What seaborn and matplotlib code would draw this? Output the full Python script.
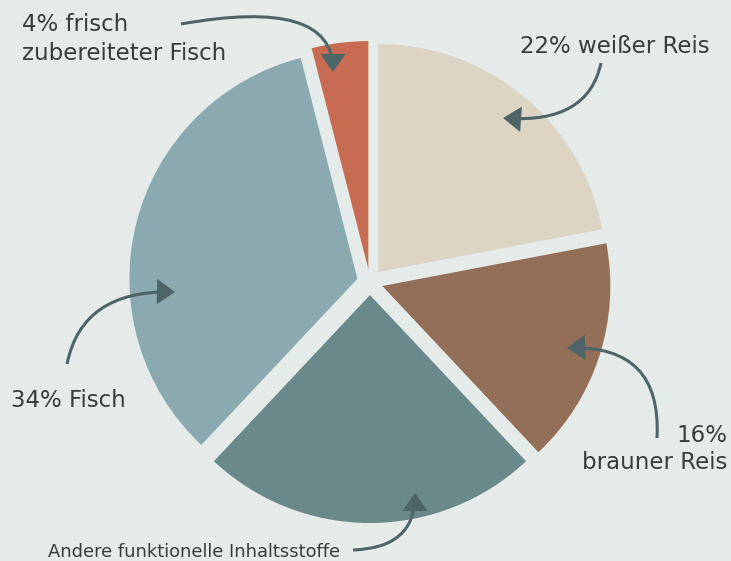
import matplotlib
matplotlib.use("Agg")
import matplotlib.pyplot as plt
import seaborn as sns
from matplotlib.patches import FancyArrowPatch
from matplotlib.path import Path

# data (clockwise from 12 o'clock)
categories = ["weißer Reis", "brauner Reis", "Andere funktionelle Inhaltsstoffe",
              "Fisch", "frisch zubereiteter Fisch"]
shares = [22, 16, 24, 34, 4]
colors = ["#DCD5C4", "#946F57", "#6A898A", "#8AAAB0", "#C76B52"]

BG = "#E5EBE9"
TXT = "#383D3C"
ARR = "#4E6567"

sns.set_theme(style="white")
plt.rcParams["font.family"] = ["DejaVu Sans"]

W, H = 731, 561
fig = plt.figure(figsize=(W / 100, H / 100), dpi=100, facecolor=BG)
ax = fig.add_axes([0, 0, 1, 1])
ax.set_facecolor(BG)

R = 228
# explode is in data units here (radius is not 1)
ax.pie(shares, colors=colors, startangle=90, counterclock=False,
       explode=[13] * len(shares), radius=R, center=(370, H - 282),
       wedgeprops=dict(linewidth=0))
ax.set_xlim(0, W)
ax.set_ylim(0, H)
ax.set_aspect("equal")
ax.axis("off")

# labels (x, baseline in image pixels)
def label(x, y, s, size=16.5, ha="left"):
    ax.text(x, H - y, s, fontsize=size, color=TXT, ha=ha, va="baseline")

label(22, 31, "4% frisch")
label(22, 60, "zubereiteter Fisch")
label(520, 53, "22% weißer Reis")
label(11, 407, "34% Fisch")
label(727, 442, "16%", ha="right")
label(727, 469, "brauner Reis", ha="right")
label(48, 557, "Andere funktionelle Inhaltsstoffe", size=12.9)

# curved arrows: start, control, tip (image pixels)
def curved(a, c, b):
    pts = [(p[0], H - p[1]) for p in (a, c, b)]
    path = Path(pts, [Path.MOVETO, Path.CURVE3, Path.CURVE3])
    arr = FancyArrowPatch(path=path, arrowstyle="-|>,head_length=10,head_width=7",
                          color=ARR, linewidth=2.2, mutation_scale=1,
                          joinstyle="miter", capstyle="butt")
    ax.add_patch(arr)

curved((181, 24), (333, -3), (333, 72))
curved((601, 63), (588, 124), (503, 118))
curved((67, 364), (82, 290), (175, 292))
curved((657, 438), (662, 345), (567, 348))
curved((353, 550), (415, 548), (415, 493))

fig.savefig("out.png", dpi=100, facecolor=BG)
